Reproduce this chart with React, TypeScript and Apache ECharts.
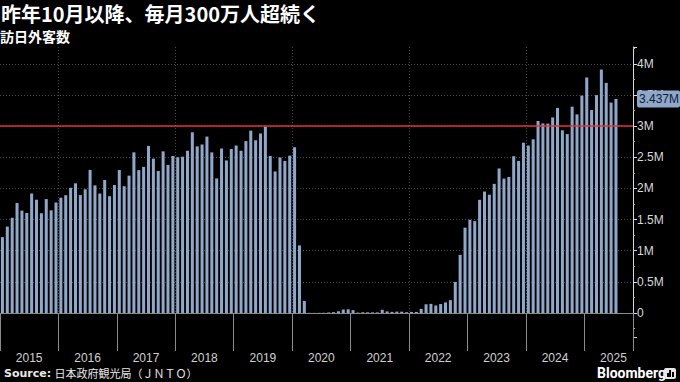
import React, { useEffect, useRef } from "react";
import * as echarts from "echarts";

// ---- data ----
const years = [2015, 2016, 2017, 2018, 2019, 2020, 2021, 2022, 2023, 2024, 2025];
// monthly visitor arrivals, thousands (Jan 2015 – Jul 2025)
const visitors2015 = [1218, 1387, 1529, 1765, 1644, 1605, 1918, 1817, 1601, 1829, 1648, 1773];
const visitors2016 = [1852, 1891, 2010, 2082, 1893, 1986, 2297, 2049, 1918, 2135, 1875, 2055];
const visitors2017 = [2296, 2036, 2205, 2579, 2294, 2346, 2682, 2478, 2280, 2595, 2378, 2521];
const visitors2018 = [2501, 2509, 2605, 2901, 2675, 2705, 2832, 2578, 2160, 2641, 2449, 2633];
const visitors2019 = [2689, 2604, 2760, 2927, 2773, 2880, 2991, 2520, 2272, 2497, 2441, 2526];
const visitors2020 = [2661, 1085, 194, 3, 2, 3, 4, 9, 14, 28, 56, 59];
const visitors2021 = [46, 7, 12, 11, 10, 10, 52, 26, 18, 22, 21, 13];
const visitors2022 = [17, 17, 66, 140, 147, 121, 144, 170, 207, 499, 934, 1370];
const visitors2023 = [1497, 1475, 1817, 1949, 1899, 2073, 2320, 2157, 2184, 2517, 2441, 2734];
const visitors2024 = [2688, 2788, 3082, 3043, 3040, 3140, 3292, 2933, 2872, 3312, 3188, 3490];
const visitors2025 = [3781, 3258, 3497, 3908, 3694, 3378, 3437];
const threshold = 3000; // thousands
const latestLabel = "3.437M";
const axisMonths = 130; // axis runs Jan 2015 – Oct 2025

const title = "昨年10月以降、毎月300万人超続く";
const subtitle = "訪日外客数";
const sourceText = "日本政府観光局（ＪＮＴＯ）";

export default function App() {
  const ref = useRef<HTMLDivElement>(null);
  useEffect(() => {
    document.body.style.margin = "0";
    document.body.style.background = "#000";
    const chart = echarts.init(ref.current!, null, { renderer: "svg" });

    const categories = years
      .flatMap((y) => Array.from({ length: 12 }, (_, m) => `${y}-${String(m + 1).padStart(2, "0")}`))
      .slice(0, axisMonths);
    const all = [
      ...visitors2015, ...visitors2016, ...visitors2017, ...visitors2018, ...visitors2019,
      ...visitors2020, ...visitors2021, ...visitors2022, ...visitors2023, ...visitors2024, ...visitors2025,
    ].map((v) => v * 1000);
    const data = categories.map((_, i) => (i < all.length ? all[i] : null));
    const latest = all[all.length - 1];

    const barColor = "#8fa8ca";
    const fontCJK = "'Noto Sans CJK JP', 'Noto Sans', sans-serif";
    const fontLatin = "'Liberation Sans', 'Noto Sans', sans-serif";

    chart.setOption({
      animation: false,
      backgroundColor: "#000",
      grid: { left: 0, right: 47, top: 47, bottom: 45, containLabel: false },
      xAxis: {
        type: "category",
        data: categories,
        boundaryGap: true,
        axisLine: { show: true, lineStyle: { color: "#8a8a8a", width: 1 } },
        axisTick: {
          show: true,
          interval: (i: number) => i % 12 === 0,
          length: 38,
          lineStyle: { color: "#8a8a8a" },
        },
        axisLabel: {
          show: true,
          interval: (i: number) => i % 12 === 6,
          formatter: (v: string) => v.slice(0, 4),
          color: "#d0d0d0",
          fontSize: 12,
          fontFamily: fontLatin,
          margin: 15,
          padding: [0, 5, 0, 0],
        },
        splitLine: {
          show: true,
          interval: (i: number) => i % 24 === 12,
          lineStyle: { color: "#4a4a4a", type: [1, 2], width: 1 },
        },
      },
      yAxis: {
        type: "value",
        position: "right",
        min: -385000,
        max: 4270000,
        splitNumber: 9,
        axisLine: { show: true, lineStyle: { color: "#d8d8d8", width: 1 } },
        axisTick: { show: true, inside: false, length: 4, lineStyle: { color: "#d8d8d8" } },
        minorTick: { show: true, splitNumber: 2, length: 2, lineStyle: { color: "#aaa" } },
        axisLabel: {
          show: true,
          showMinLabel: false,
          showMaxLabel: false,
          color: "#d8d8d8",
          fontSize: 12,
          fontFamily: fontLatin,
          margin: 4,
          formatter: (v: number) => (v === 0 ? "0" : `${v / 1e6}M`),
        },
        splitLine: {
          show: true,
          showMinLine: false,
          showMaxLine: false,
          lineStyle: { color: "#4a4a4a", type: [1, 2], width: 1 },
        },
      },
      series: [
        {
          type: "bar",
          data,
          barCategoryGap: "38%",
          itemStyle: { color: barColor },
          markLine: {
            silent: true,
            symbol: ["none", "none"],
            animation: false,
            z: 10,
            data: [
              {
                yAxis: threshold * 1000,
                lineStyle: { color: "#e0303c", width: 1.5, type: "solid" },
                label: { show: false },
              },
              {
                yAxis: latest,
                lineStyle: { color: "rgba(0,0,0,0)", width: 1, type: "solid" },
                label: {
                  show: true,
                  position: "end",
                  distance: 4,
                  formatter: latestLabel,
                  backgroundColor: barColor,
                  color: "#0b1e3a",
                  fontSize: 12,
                  fontFamily: fontLatin,
                  padding: [3, 1, 2, 2],
                  borderRadius: 2,
                },
              },
            ],
          },
        },
      ],
      graphic: [
        {
          type: "text",
          x: 1,
          y: 13,
          style: {
            text: title,
            fill: "#fff",
            fontSize: 20,
            fontWeight: "bold",
            fontFamily: fontCJK,
            verticalAlign: "middle",
          },
        },
        {
          type: "text",
          x: 0,
          y: 36,
          style: {
            text: subtitle,
            fill: "#fff",
            fontSize: 14,
            fontWeight: "bold",
            fontFamily: fontCJK,
            verticalAlign: "middle",
          },
        },
        {
          type: "text",
          left: 4,
          top: 367,
          style: {
            text: `{b|Source:} {n|${sourceText}}`,
            rich: {
              b: { fill: "#e8e8e8", fontSize: 11, fontWeight: "bold", fontFamily: "'DejaVu Sans', sans-serif" },
              n: { fill: "#e8e8e8", fontSize: 11, fontFamily: fontCJK },
            },
          },
        },
        {
          type: "text",
          left: 597,
          top: 366,
          style: {
            text: "Bloomberg",
            fill: "#fff",
            fontSize: 14,
            fontWeight: "bold",
            fontFamily: "Roboto, 'Noto Sans', sans-serif",
          },
        },
        {
          type: "group",
          left: 664,
          top: 368,
          children: [
            { type: "rect", shape: { x: 0, y: 0, width: 12, height: 11, r: 2 }, style: { fill: "#e6e6e6" } },
            { type: "rect", shape: { x: 3, y: 5, width: 2, height: 4 }, style: { fill: "#000" } },
            { type: "rect", shape: { x: 5, y: 2, width: 2, height: 7 }, style: { fill: "#000" } },
            { type: "rect", shape: { x: 8, y: 4, width: 2, height: 5 }, style: { fill: "#000" } },
          ],
        },
      ],
    });
    return () => chart.dispose();
  }, []);
  return (
    <div
      ref={ref}
      style={{ position: "fixed", left: 0, top: 0, width: 680, height: 382, background: "#000" }}
    />
  );
}
